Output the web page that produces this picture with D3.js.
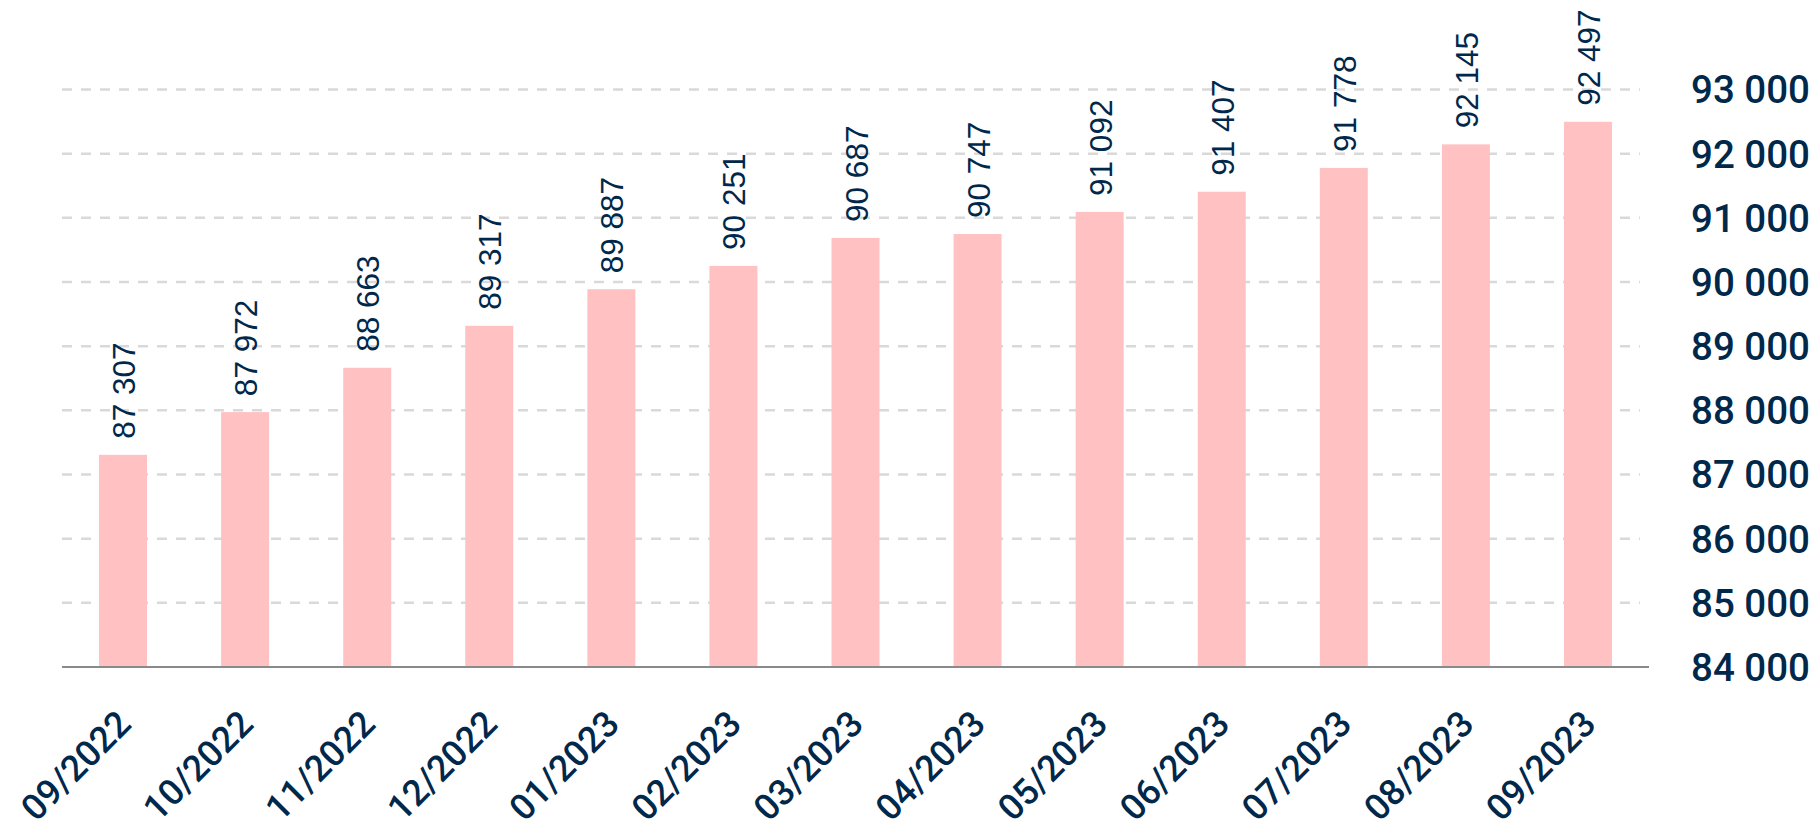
<!DOCTYPE html>
<html>
<head>
<meta charset="utf-8">
<script src="https://cdn.jsdelivr.net/npm/d3@7/dist/d3.min.js"></script>
<style>
  html, body { margin: 0; padding: 0; background: #ffffff; }
  svg { display: block; }
</style>
</head>
<body>
<svg id="chart" width="1819" height="828"></svg>
<script>
const categories = ["09/2022","10/2022","11/2022","12/2022","01/2023","02/2023","03/2023","04/2023","05/2023","06/2023","07/2023","08/2023","09/2023"];
const values = [87307, 87972, 88663, 89317, 89887, 90251, 90687, 90747, 91092, 91407, 91778, 92145, 92497];
const yTicks = [84000, 85000, 86000, 87000, 88000, 89000, 90000, 91000, 92000, 93000];

const textColor = "#00284b";
const barColor = "#ffc1c1";

const svg = d3.select("#chart");

const x = d3.scaleBand()
  .domain(categories)
  .range([62, 1649])
  .paddingInner(0.607)
  .paddingOuter(0.3035);

const y = d3.scaleLinear()
  .domain([84000, 93000])
  .range([667, 89.5]);

const fmt = v => d3.format(",")(v).replace(/,/g, " ");

// gridlines
svg.append("g")
  .selectAll("line")
  .data(yTicks.filter(t => t > 84000))
  .join("line")
  .attr("x1", 62)
  .attr("x2", 1640)
  .attr("y1", d => y(d))
  .attr("y2", d => y(d))
  .attr("stroke", "#d9d9d9")
  .attr("stroke-width", 2.5)
  .attr("stroke-dasharray", "10,9");

// bars
svg.append("g")
  .selectAll("rect")
  .data(values)
  .join("rect")
  .attr("x", (d, i) => x(categories[i]))
  .attr("width", x.bandwidth())
  .attr("y", d => y(d))
  .attr("height", d => y(84000) - y(d))
  .attr("fill", barColor);

// baseline
svg.append("line")
  .attr("x1", 62)
  .attr("x2", 1649)
  .attr("y1", y(84000))
  .attr("y2", y(84000))
  .attr("stroke", "#8a8a8a")
  .attr("stroke-width", 2);

// y axis on right
const yAxis = d3.axisRight(y)
  .tickValues(yTicks)
  .tickSize(0)
  .tickPadding(0)
  .tickFormat(fmt);

const gy = svg.append("g")
  .attr("transform", "translate(1691,0)")
  .call(yAxis);
gy.select(".domain").remove();
gy.selectAll("text")
  .attr("fill", textColor)
  .attr("font-family", "Roboto, 'Liberation Sans', Arial, sans-serif")
  .attr("font-weight", 500)
  .attr("font-size", 38.5)
  .attr("dy", "0.35em");

// x axis
const xAxis = d3.axisBottom(x).tickSize(0).tickPadding(0);
const gx = svg.append("g")
  .attr("transform", `translate(0,${y(84000)})`)
  .call(xAxis);
gx.select(".domain").remove();
gx.selectAll("text")
  .attr("fill", textColor)
  .attr("font-family", "Roboto, 'Liberation Sans', Arial, sans-serif")
  .attr("font-weight", 500)
  .attr("font-size", 36)
  .attr("text-anchor", "end")
  .attr("dy", 0)
  .attr("y", 0)
  .attr("transform", "translate(10,59) rotate(-45)");

// value labels
svg.append("g")
  .selectAll("text")
  .data(values)
  .join("text")
  .attr("transform", (d, i) => `translate(${x(categories[i]) + x.bandwidth() / 2 + 12},${y(d) - 16}) rotate(-90)`)
  .attr("text-anchor", "start")
  .attr("fill", textColor)
  .attr("font-family", "'Liberation Sans', Arial, sans-serif")
  .attr("font-size", 31.5)
  .text(d => fmt(d));
</script>
</body>
</html>
